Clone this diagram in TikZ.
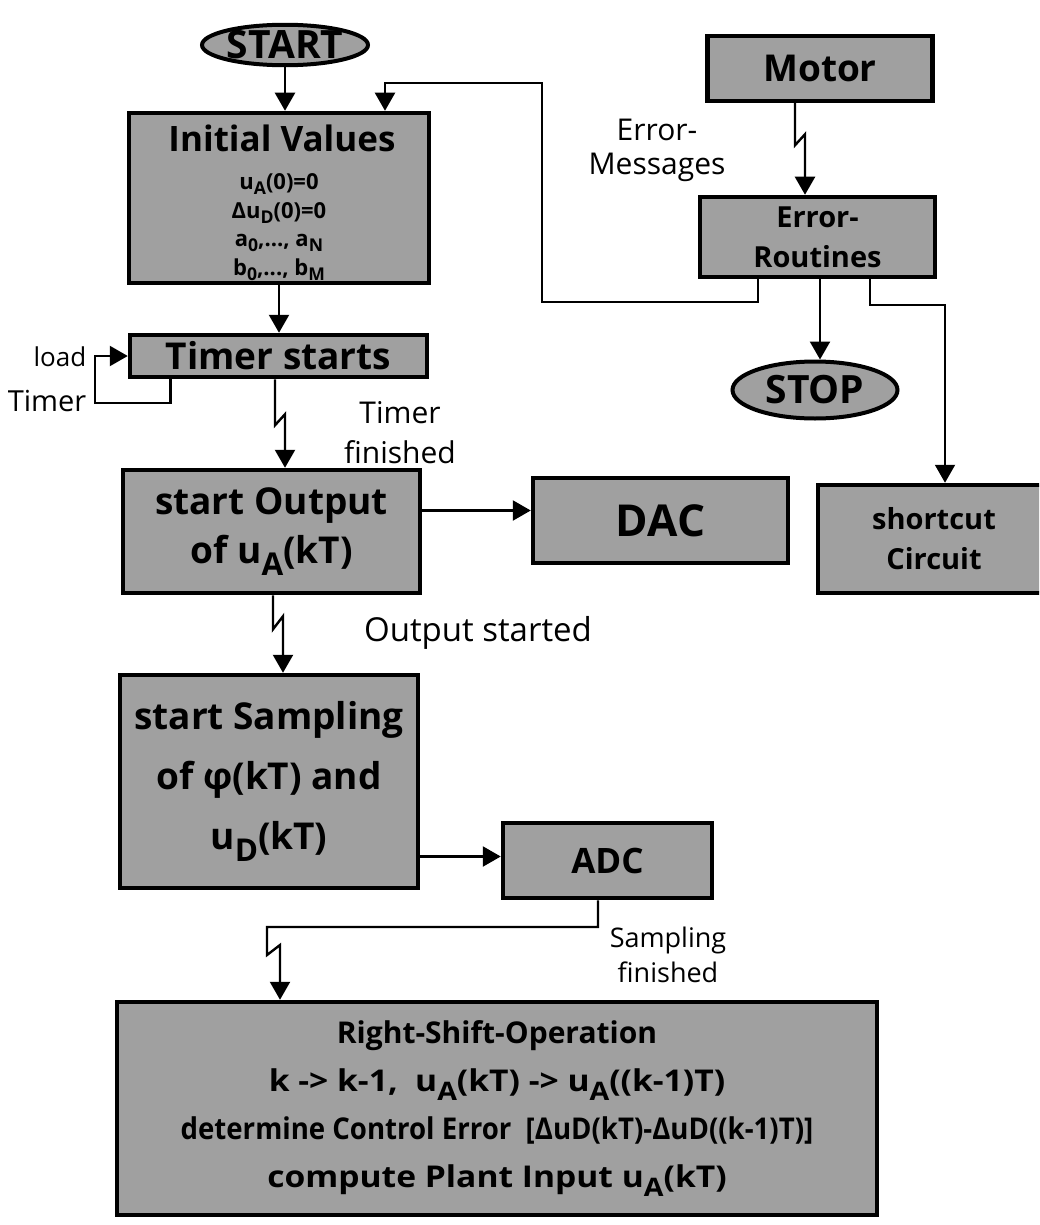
\documentclass[tikz,border=0pt]{standalone}
\usepackage{fontspec}
\setmainfont{Open Sans}
\usepackage{graphicx}
\usetikzlibrary{arrows.meta,shapes.geometric,calc}
\newcommand\sbs[1]{\raisebox{-0.32em}{\scalebox{0.85}{#1}}}
\newcommand\sbsm[1]{\raisebox{-0.22em}{\scalebox{0.8}{#1}}}
\newcommand\fsz[2]{\fontsize{#1}{#2}\selectfont}
\definecolor{boxgray}{RGB}{160,160,160}
\begin{document}
\begin{tikzpicture}[x=1pt,y=-1pt,
  box/.style={draw=black,line width=4.5pt,fill=boxgray,inner sep=0pt,align=center},
  oval/.style={ellipse,draw=black,line width=4pt,fill=boxgray,inner sep=0pt},
  arr/.style={line width=2.4pt,-{Triangle[length=18pt,width=20pt]}},
  lbl/.style={align=center,inner sep=0pt}]
\useasboundingbox (0,0) rectangle (1039,1225);
\clip (0,0) rectangle (1039,1225);

% nodes
\node[oval,minimum width=166pt,minimum height=38pt,font=\bfseries\fsz{39}{39}] (start) at (285,45) {START};
\node[box,minimum width=300pt,minimum height=170pt] (init) at (279,198) {};
\node[lbl,font=\bfseries\fsz{35}{35}] (initT) at (282,138) {Initial Values};
\node[lbl,font=\bfseries\fsz{22}{28.5}] (initV) at (279,227) {u\sbsm{A}(0)=0\\Δu\sbsm{D}(0)=0\\a\sbsm{0},..., a\sbsm{N}\\b\sbsm{0},..., b\sbsm{M}};
\node[box,minimum width=297pt,minimum height=42pt,font=\bfseries\fsz{37}{37}] (timer) at (278.5,356) {Timer starts};
\node[box,minimum width=297pt,minimum height=123pt,font=\bfseries\fsz{37}{49}] (out) at (271.5,531.5) {start Output\\of u\sbs{A}(kT)};
\node[box,minimum width=298pt,minimum height=213pt,font=\bfseries\fsz{37}{60}] (samp) at (269,781.5) {start Sampling\\of φ(kT) and\\u\sbs{D}(kT)};
\node[box,minimum width=760pt,minimum height=213pt,font=\bfseries\fsz{30}{48}] (shift) at (497,1108.5) {\scalebox{1.0}[1]{Right-Shift-Operation}\\\scalebox{1.12}[1]{k -> k-1,\ \ u\sbs{A}(kT) -> u\sbs{A}((k-1)T)}\\\scalebox{0.92}[1]{determine Control Error\ \ [ΔuD(kT)-ΔuD((k-1)T)]}\\\scalebox{1.12}[1]{compute Plant Input u\sbs{A}(kT)}};
\node[box,minimum width=255pt,minimum height=85pt,font=\bfseries\fsz{44}{44}] (dac) at (660.5,520.5) {DAC};
\node[box,minimum width=209pt,minimum height=75pt,font=\bfseries\fsz{35}{35}] (adc) at (607.5,860.5) {ADC};
\node[box,minimum width=225pt,minimum height=65pt,font=\bfseries\fsz{37}{37}] (motor) at (820,68.5) {Motor};
\node[box,minimum width=235pt,minimum height=80pt,font=\bfseries\fsz{29}{40}] (err) at (817.5,237) {Error-\\Routines};
\node[oval,minimum width=165pt,minimum height=57pt,font=\bfseries\fsz{39}{39}] (stop) at (815,390) {STOP};
\node[box,minimum width=232pt,minimum height=108pt,font=\bfseries\fsz{29}{40}] (short) at (934,539) {shortcut\\Circuit};

% labels
\node[lbl,font=\fsz{26}{26}] (lload) at (60,357) {load};
\node[lbl,font=\fsz{29}{29}] (ltimer) at (47,401) {Timer};
\node[lbl,font=\fsz{30}{40}] (ltf) at (400,433) {Timer\\finished};
\node[lbl,font=\fsz{30}{34}] (lem) at (657,150) {Error-\\Messages};
\node[lbl,font=\fsz{33}{33}] (los) at (478,633) {Output started};
\node[lbl,font=\fsz{27}{35}] (lsf) at (668,955) {Sampling\\finished};

% connectors
\coordinate (e1) at (542,83);
\coordinate (l1) at (95,403);
\coordinate (a2) at (267,927);

\draw[arr] (start.south) -- (start.south |- init.north);
\draw[arr] (init.south) -- (init.south |- timer.north);
\draw[arr] ([xshift=-108pt]timer.south) |- (l1) |- (timer.west);
\draw[arr] ([xshift=-3.5pt]timer.south) -- ++(0,46) -- ++(10,-11) coordinate (t1) -- (t1 |- out.north);
\draw[arr] ([xshift=1.5pt]out.south) -- ++(0,34) -- ++(10,-13) coordinate (o1) -- (o1 |- samp.north);
\draw[arr] ([yshift=21pt]out.east) coordinate (o2) -- (o2 -| dac.west);
\draw[arr] ([yshift=-75pt]samp.east) coordinate (o3) -- (o3 -| adc.west);
\draw[arr] ([xshift=-9.5pt]adc.south) |- (a2) -- ++(0,28) -- ++(13,-10) coordinate (a3) -- (a3 |- shift.north);
\draw[arr] ([xshift=-25pt]motor.south) -- ++(0,42) -- ++(10,-11) coordinate (m1) -- (m1 |- err.north);
\draw[arr] ([xshift=2.5pt]err.south) -- ([xshift=2.5pt]err.south |- stop.north);
\draw[arr,line width=2pt] ([xshift=-59.5pt]err.south) -- ++(0,23) -| (e1) -| ([xshift=106pt]init.north);
\draw[arr,line width=2pt] ([xshift=52.5pt]err.south) -- ++(0,26) -| ([xshift=11pt]short.north);
\end{tikzpicture}
\end{document}
